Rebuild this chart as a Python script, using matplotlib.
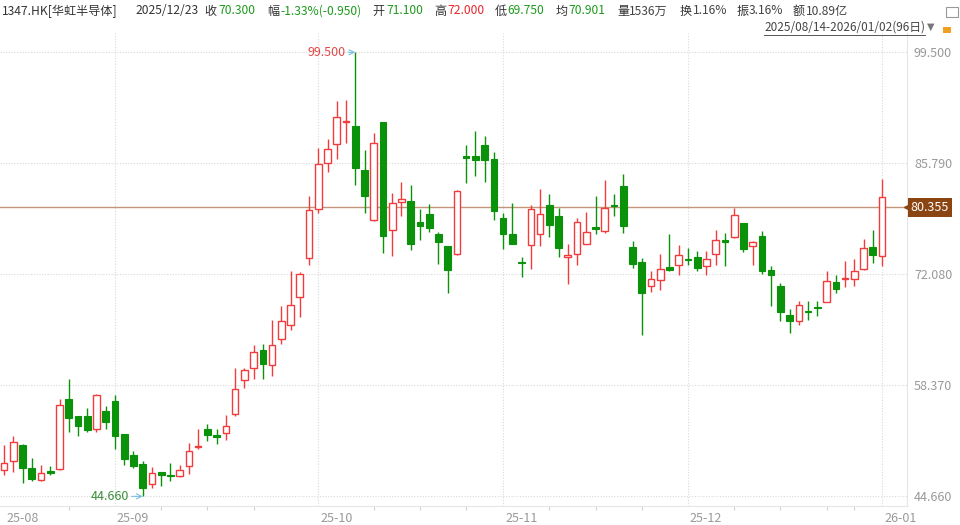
import matplotlib
matplotlib.use("Agg")
import matplotlib.pyplot as plt
import matplotlib.transforms as mtrans
from matplotlib.patches import Rectangle
import pandas as pd

plt.rcParams['font.family'] = ['Noto Sans CJK SC', 'DejaVu Sans']

# ---- data ----
holidays = ['2025-10-01', '2025-10-07', '2025-10-29', '2025-12-25', '2025-12-26', '2026-01-01']
dates = [d for d in pd.bdate_range('2025-08-14', '2026-01-02')
         if d.strftime('%Y-%m-%d') not in holidays]

opens = [47.96, 48.98, 51.04, 48.16, 46.72, 47.83, 48.08, 56.68, 54.54, 54.54,
         53.02, 55.16, 56.47, 52.36, 49.81, 48.66, 46.22, 47.63, 47.34, 47.22,
         48.37, 50.76, 52.98, 52.19, 52.48, 54.87, 58.98, 60.50, 62.77, 60.92,
         64.08, 65.85, 69.23, 74.08, 80.13, 85.80, 88.15, 90.90, 90.41, 84.98,
         78.81, 90.86, 77.57, 80.95, 81.19, 78.52, 79.51, 77.04, 75.52, 74.57,
         86.71, 86.75, 88.02, 86.30, 79.01, 77.04, 73.63, 75.72, 77.08, 80.58,
         79.22, 74.28, 74.57, 75.85, 77.90, 77.37, 80.66, 83.00, 75.44, 73.58,
         70.58, 71.40, 72.97, 73.26, 73.91, 74.20, 73.05, 74.57, 76.26, 76.67,
         78.40, 75.52, 76.83, 72.56, 70.66, 67.00, 66.34, 67.46, 68.03, 68.65,
         71.10, 71.45, 71.49, 72.72, 75.44, 74.37]
highs = [51.04, 52.07, 51.10, 49.40, 48.57, 48.37, 56.68, 59.15, 54.60, 55.57,
         57.33, 55.86, 57.21, 52.40, 50.22, 48.98, 48.25, 47.70, 48.78, 48.57,
         51.25, 52.98, 53.64, 52.98, 54.75, 60.50, 60.50, 63.38, 63.51, 66.39,
         68.11, 72.43, 72.39, 81.77, 87.65, 88.76, 93.49, 93.62, 99.50, 87.45,
         89.59, 90.90, 82.10, 83.46, 83.05, 80.13, 80.74, 77.25, 75.55, 82.50,
         88.06, 89.83, 89.22, 87.16, 79.63, 80.87, 74.20, 80.66, 82.59, 82.02,
         80.33, 75.81, 79.01, 79.75, 81.81, 83.74, 81.98, 84.44, 76.14, 74.08,
         72.52, 74.57, 77.04, 75.72, 75.31, 74.90, 74.90, 77.57, 77.16, 80.33,
         78.45, 76.14, 77.37, 73.05, 70.99, 67.78, 68.73, 68.73, 68.73, 72.52,
         72.00, 73.67, 74.00, 76.46, 77.57, 83.83]
lows = [47.34, 47.63, 46.26, 46.51, 46.51, 47.34, 47.96, 52.56, 52.07, 52.56,
        52.56, 53.02, 50.51, 48.57, 48.16, 44.66, 45.70, 45.90, 46.51, 47.06,
        47.47, 50.51, 51.54, 51.17, 51.66, 54.54, 58.04, 59.15, 59.15, 59.56,
        63.47, 65.23, 66.76, 73.26, 79.71, 84.77, 86.30, 88.27, 83.05, 79.63,
        78.70, 74.70, 74.37, 79.30, 75.11, 76.26, 77.25, 73.38, 69.76, 74.50,
        83.33, 84.16, 83.54, 78.81, 75.23, 75.80, 71.73, 72.72, 75.52, 76.63,
        74.16, 70.91, 73.26, 75.80, 77.04, 77.16, 79.34, 77.16, 72.84, 64.62,
        69.84, 70.09, 72.43, 72.02, 73.26, 72.43, 72.02, 73.26, 73.13, 76.60,
        74.82, 73.26, 72.10, 68.11, 66.26, 64.82, 65.85, 66.47, 66.88, 68.60,
        69.75, 70.46, 70.66, 72.60, 73.46, 73.05]
closes = [48.78, 51.33, 48.16, 46.80, 47.55, 47.58, 55.98, 54.33, 53.30, 52.81,
          57.21, 53.84, 52.15, 49.31, 48.37, 45.70, 47.55, 47.26, 47.14, 47.96,
          50.22, 50.92, 52.19, 51.95, 53.39, 57.91, 60.30, 62.48, 61.04, 63.30,
          66.26, 68.24, 72.10, 80.04, 85.68, 87.53, 91.48, 91.07, 85.27, 81.81,
          88.27, 76.83, 80.87, 81.40, 75.85, 77.99, 77.78, 76.05, 72.56, 82.43,
          86.50, 86.21, 86.21, 79.84, 77.08, 75.85, 73.50, 80.13, 79.51, 78.19,
          75.31, 74.49, 78.60, 77.25, 77.66, 80.25, 80.54, 77.99, 73.34, 69.76,
          71.49, 72.76, 72.56, 74.41, 73.83, 72.80, 73.95, 76.26, 76.09, 79.43,
          75.23, 76.01, 72.52, 72.02, 67.37, 66.34, 68.24, 67.37, 67.91, 71.28,
          70.30, 71.53, 72.52, 75.31, 74.41, 81.61]

ytick_vals = [44.660, 58.370, 72.080, 85.790, 99.500]
cross_price = 80.355

header = [  # (text, x pixel, colour)
    ("1347.HK[华虹半导体]", 2, '#333333'), ("2025/12/23", 135, '#333333'),
    ("收", 204, '#333333'), ("70.300", 218, '#1e9a1e'),
    ("幅", 267, '#333333'), ("-1.33%(-0.950)", 280, '#1e9a1e'),
    ("开", 372, '#333333'), ("71.100", 386, '#1e9a1e'),
    ("高", 434, '#333333'), ("72.000", 447, '#e8262a'),
    ("低", 495, '#333333'), ("69.750", 507, '#1e9a1e'),
    ("均", 556, '#333333'), ("70.901", 568, '#1e9a1e'),
    ("量", 617, '#333333'), ("1536万", 629, '#444444'),
    ("换", 680, '#333333'), ("1.16%", 693, '#444444'),
    ("振", 737, '#333333'), ("3.16%", 749, '#444444'),
    ("额", 793, '#333333'), ("10.89亿", 806, '#444444'),
]
range_label = "2025/08/14-2026/01/02(96日)"

UP = '#f03c3c'
DOWN = '#0a930a'
W, H = 960, 525

fig = plt.figure(figsize=(9.6, 5.25), dpi=100)
ax = fig.add_axes([0, (H - 506) / H, 907 / W, (506 - 33) / H])

n = len(opens)
xs = list(range(n))

# wicks first, bodies on top
for i in xs:
    up = closes[i] >= opens[i]
    ax.vlines(i, lows[i], highs[i], color=UP if up else DOWN, lw=1.0, zorder=2)
for i in xs:
    up = closes[i] >= opens[i]
    lo = min(opens[i], closes[i])
    h = max(abs(closes[i] - opens[i]), 0.12)
    if up:
        ax.bar(i, h, bottom=lo, width=0.72, facecolor='white', edgecolor=UP,
               lw=1.0, zorder=3)
    else:
        ax.bar(i, h, bottom=lo, width=0.72, facecolor=DOWN, edgecolor=DOWN,
               lw=0.8, zorder=3)

ax.set_xlim(-0.44, 97.7)
ax.set_ylim(43.47, 101.88)

# grid
grid_kw = dict(color='#d9d9d9', lw=0.8, ls=(0, (1, 1.5)), zorder=0)
for v in ytick_vals:
    ax.axhline(v, **grid_kw)

month_idx = [i for i in xs if i == 0 or dates[i].month != dates[i - 1].month]
month_lbl = [dates[i].strftime('%y-%m') for i in month_idx]
for i in month_idx[1:]:
    ax.axvline(i, **grid_kw)

weekly = [i for i in xs if dates[i].weekday() == 0
          and all(not (0 <= i - m <= 2) for m in month_idx)
          and all(not (0 < m - i <= 2) for m in month_idx)]

ax.set_xticks(month_idx)
ax.set_xticklabels(month_lbl, ha='left')
ax.set_xticks(weekly, minor=True)
ax.tick_params(axis='x', which='major', length=0, pad=4, labelsize=9,
               labelcolor='#999999')
ax.tick_params(axis='x', which='minor', length=3, color='#d0d0d0', width=0.8)

ax.yaxis.tick_right()
ax.set_yticks(ytick_vals)
ax.set_yticklabels([f"{v:.3f}" for v in ytick_vals])
ax.tick_params(axis='y', length=0, pad=5, labelsize=9, labelcolor='#999999')

for s in ['top', 'left']:
    ax.spines[s].set_visible(False)
ax.spines['bottom'].set_color('#e6e6e6')
ax.spines['right'].set_color('#e6e6e6')

# shift month labels slightly right of their grid line
off = mtrans.ScaledTranslation(2 / 100, 0, fig.dpi_scale_trans)
for lab in ax.get_xticklabels():
    lab.set_transform(lab.get_transform() + off)

# crosshair price line
ax.axhline(cross_price, color='#c4957a', lw=1.0, zorder=1)
ax.plot([1.0], [cross_price], marker='<', ms=5, color='#8b4513',
        transform=ax.get_yaxis_transform(), clip_on=False, zorder=5)
ax.text(1.004, cross_price, f"{cross_price:.3f}", transform=ax.get_yaxis_transform(),
        ha='left', va='center', fontsize=9, color='white', zorder=6,
        bbox=dict(boxstyle='square,pad=0.22', fc='#8b4513', ec='none'))

# max / min markers
i_max = max(xs, key=lambda i: highs[i])
i_min = min(xs, key=lambda i: lows[i])
arrow_kw = dict(arrowstyle='->', color='#7cbfe0', lw=0.8, shrinkA=0, shrinkB=0)
ax.annotate(f"{highs[i_max]:.3f}", xy=(i_max, highs[i_max]), xytext=(-10, 0),
            textcoords='offset pixels', ha='right', va='center', fontsize=9,
            color='#e24848', arrowprops=arrow_kw)
ax.annotate(f"{lows[i_min]:.3f}", xy=(i_min, lows[i_min]), xytext=(-14, 0),
            textcoords='offset pixels', ha='right', va='center', fontsize=9,
            color='#3a8f3a', arrowprops=arrow_kw)

# header line
for txt, px, col in header:
    fig.text(px / W, 1 - 11 / H, txt, ha='left', va='center', fontsize=8.7, color=col)

rl = fig.text(925 / W, 1 - 27 / H, range_label, ha='right', va='center',
              fontsize=8.5, color='#444444')
fig.canvas.draw()
bb = rl.get_window_extent()
fig.add_artist(plt.Line2D([bb.x0 / W, bb.x1 / W], [(bb.y0 - 1) / H] * 2,
                          color='#555555', lw=0.7))
fig.text(927 / W, 1 - 27 / H, "▼", ha='left', va='center', fontsize=7,
         color='#777777', family=['DejaVu Sans'])
# small lock icon and monitor icon
fig.add_artist(Rectangle((943 / W, 1 - 33 / H), 8 / W, 6 / H, fc='#f0a020', ec='none'))
fig.add_artist(Rectangle((946 / W, 1 - 17 / H), 12 / W, 10 / H, fc='none',
                         ec='#999999', lw=0.8))

fig.savefig('out.png', dpi=100)
